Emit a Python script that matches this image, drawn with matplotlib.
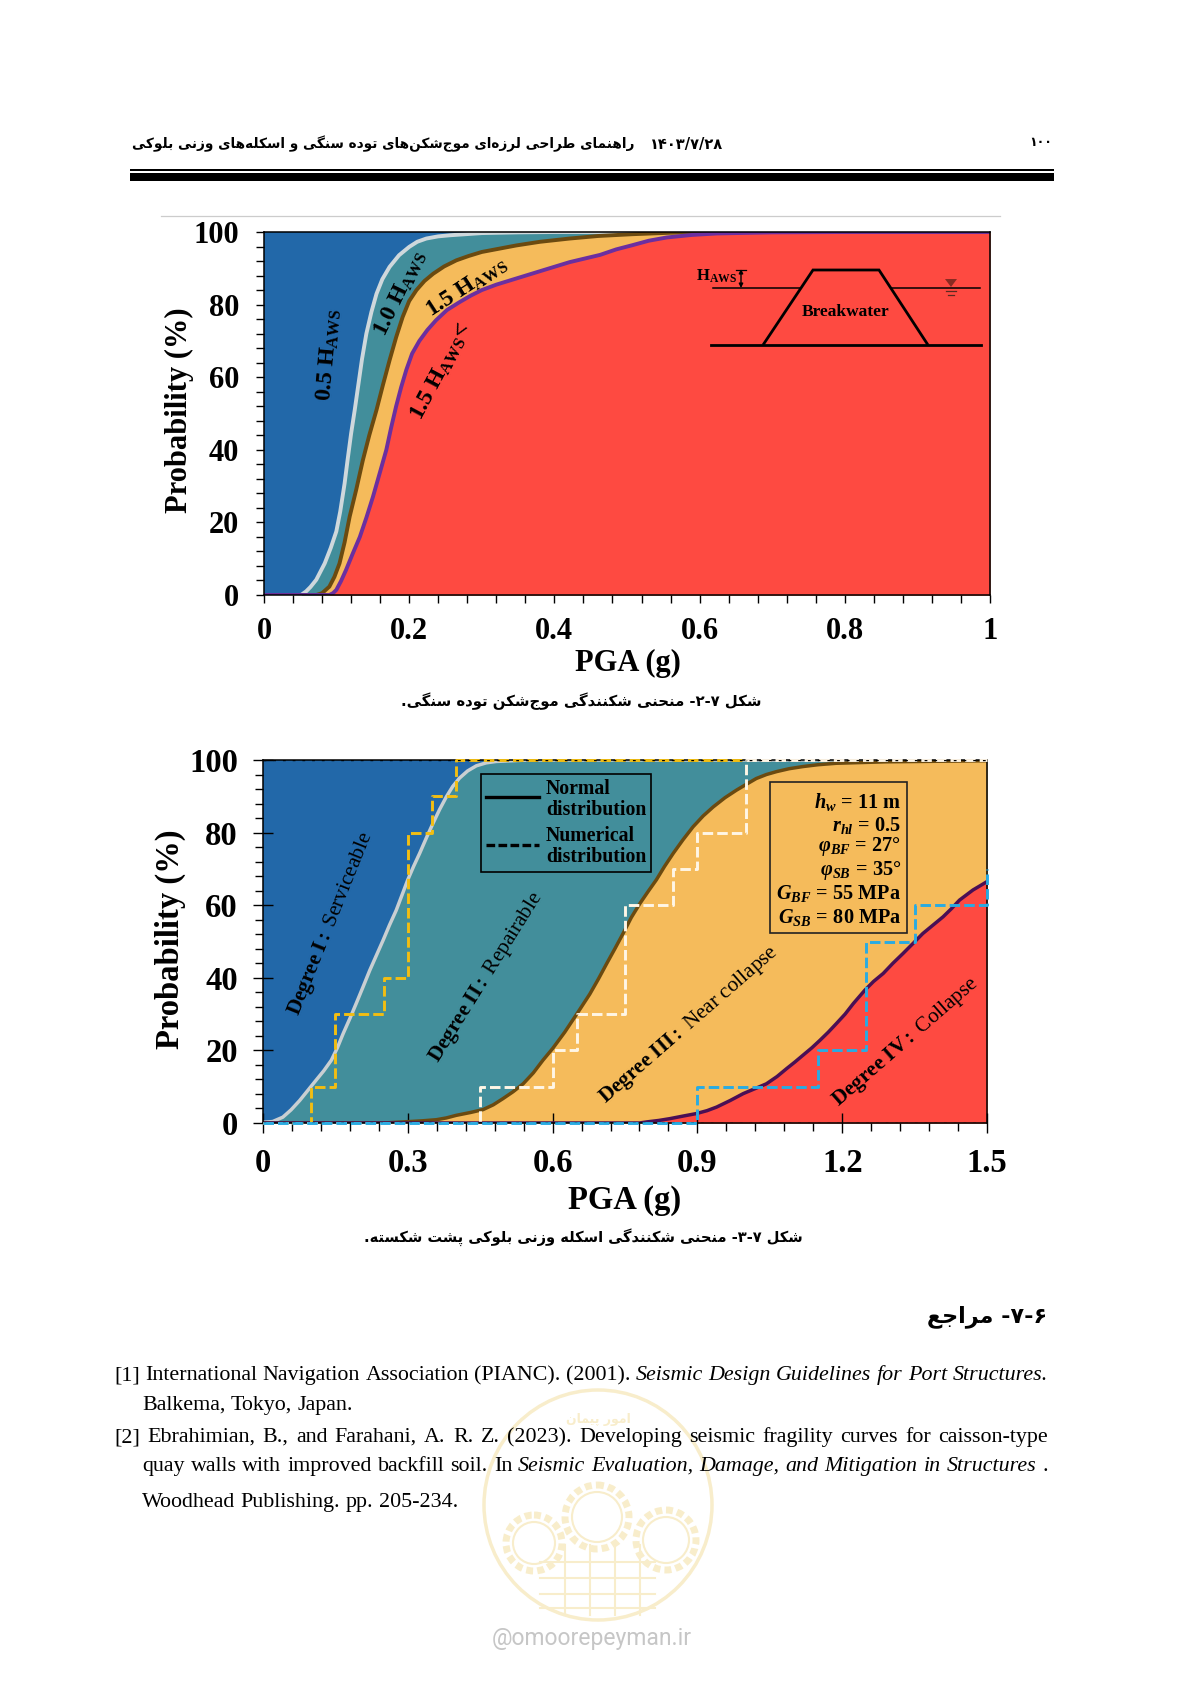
import matplotlib
matplotlib.use("Agg")
import matplotlib.pyplot as plt
from matplotlib.lines import Line2D
from matplotlib.patches import Ellipse, Polygon, Rectangle
from matplotlib.ticker import MultipleLocator, FuncFormatter

W, H = 1191, 1684
SERIF = "Liberation Serif"
plt.rcParams["font.family"] = SERIF
plt.rcParams["mathtext.fontset"] = "custom"
plt.rcParams["mathtext.rm"] = SERIF
plt.rcParams["mathtext.it"] = SERIF + ":italic"
plt.rcParams["mathtext.bf"] = SERIF + ":bold"
plt.rcParams["mathtext.bfit"] = SERIF + ":italic:bold"

# breakwater fragility curves
x_05 = [0, .051, .058, .064, .072, .0836, .092, .0996, .105, .111, .115, .120, .125, .1295, .135, .141, .148, .155, .163, .173, .186, .2, .211, .2236, .24, .256, .30, .35, .4, 1]
y_05 = [0, 0, 1, 2.2, 4.2, 8.7, 13, 17.5, 23, 30.7, 37, 44.5, 51, 57.3, 65, 72, 78, 83, 87, 90.4, 93.6, 95.9, 97.3, 98.2, 98.8, 99.1, 99.7, 99.9, 100, 100]
x_10 = [0, .072, .08, .09, .097, .104, .111, .118, .127, .136, .145, .155, .164, .173, .182, .191, .2, .21, .221, .233, .248, .265, .282, .30, .3476, .38, .421, .46, .508, .56, .624, 1]
y_10 = [0, 0, .5, 2.3, 5, 8.7, 14.5, 21.6, 29, 37, 44, 51, 58, 64.7, 71, 76.6, 81, 84, 86.5, 88.5, 90.5, 92.2, 93.4, 94.5, 96.3, 97.3, 98.2, 98.9, 99.4, 99.8, 100, 100]
x_15 = [0, .09, .095, .0996, .106, .113, .122, .132, .141, .15, .159, .1685, .175, .182, .189, .196, .204, .214, .225, .237, .252, .2695, .285, .30, .32, .3476, .385, .421, .463, .485, .508, .53, .555, .59, .624, .7, .8, 1]
y_15 = [0, 0, .5, 1.4, 3.8, 6.9, 11.3, 16, 21.3, 27, 33.3, 40, 46, 52, 57.3, 62, 66.5, 70, 73, 75.7, 78.5, 80.7, 82.5, 84, 85.5, 87.2, 89.5, 91.7, 93.7, 95.2, 96.4, 97.6, 98.5, 99.2, 99.6, 99.9, 100, 100]

# block quay wall fragility curves
x_d1 = [0, .02, .041, .058, .076, .093, .11, .126, .1416, .154, .166, .18, .193, .207, .221, .235, .249, .262, .276, .288, .30, .312, .3246, .338, .352, .366, .38, .393, .407, .424, .442, .462, .483, .55, 1.5]
y_d1 = [.2, .4, 1.6, 3.6, 6.2, 9, 11.8, 14.4, 17.3, 20.7, 24.6, 28.8, 32.9, 37.4, 42, 46.2, 50.4, 54.5, 58.6, 62.8, 67, 70.7, 74.3, 78.4, 82.5, 86.4, 89.9, 92.7, 95, 97, 98.4, 99.2, 99.6, 100, 100]
x_d2 = [0, .25, .304, .33, .359, .38, .40, .43, .456, .477, .497, .518, .539, .56, .58, .6, .625, .65, .677, .695, .712, .729, .746, .763, .781, .798, .815, .832, .85, .87, .891, .912, .933, .957, .981, 1.0, 1.022, 1.043, 1.064, 1.09, 1.119, 1.15, 1.188, 1.29, 1.5]
y_d2 = [0, 0, .4, .6, .9, 1.4, 2.1, 2.9, 3.7, 5, 6.7, 8.6, 10.8, 13.8, 17.3, 20.5, 25, 30, 35.5, 39.7, 43.9, 48, 52.2, 56.6, 60.5, 63.8, 67, 70.7, 74.3, 78, 81.6, 84.6, 87.1, 89.6, 91.7, 93.2, 94.9, 96, 96.8, 97.6, 98.2, 98.7, 99.1, 99.5, 99.8]
x_d3 = [0, .78, .795, .82, .843, .87, .898, .92, .94, .968, .995, 1.02, 1.043, 1.065, 1.085, 1.102, 1.119, 1.137, 1.154, 1.171, 1.188, 1.206, 1.223, 1.247, 1.265, 1.285, 1.305, 1.326, 1.347, 1.367, 1.388, 1.409, 1.426, 1.443, 1.457, 1.471, 1.485, 1.5]
y_d3 = [0, 0, .3, .7, 1.2, 1.9, 2.6, 3.4, 4.4, 6.2, 8.1, 9.5, 10.8, 12.8, 15, 16.8, 18.7, 20.7, 22.8, 25, 27.4, 30, 32.9, 36.6, 39, 41.2, 44, 46.7, 49.5, 52.2, 54.5, 56.8, 59, 61.4, 62.8, 64.2, 65.3, 66.5]

# numerical distributions (steps)
step_x1 = [0, 0.1, 0.15, 0.25, 0.30, 0.35, 0.40, 1.0]
step_y1 = [0, 10, 30, 40, 80, 90, 100, 100]
step_x2 = [0, 0.45, 0.6, 0.65, 0.75, 0.85, 0.9, 1.0, 1.5]
step_y2 = [0, 10, 20, 30, 60, 70, 80, 100, 100]
step_x3 = [0, 0.9, 1.15, 1.25, 1.35, 1.5]
step_y3 = [0, 10, 20, 50, 60, 70]

BLUE, TEAL, ORANGE, RED = "#2268A9", "#428E9B", "#F5BB5B", "#FE4A41"

params = [r"$\mathbfit{h_w}\mathbf{\,=\,11\ m}$", r"$\mathbfit{r_{hl}}\mathbf{\,=\,0.5}$",
          r"$\mathbfit{\varphi_{BF}}\mathbf{\,=\,27°}$", r"$\mathbfit{\varphi_{SB}}\mathbf{\,=\,35°}$",
          r"$\mathbfit{G_{BF}}\mathbf{\,=\,55\ MPa}$", r"$\mathbfit{G_{SB}}\mathbf{\,=\,80\ MPa}$"]


# matplotlib does no arabic shaping, so pick presentation forms by hand
FORMS = {"ب": 0xFE8F, "پ": 0xFB56, "ت": 0xFE95, "ج": 0xFE9D, "چ": 0xFB7A, "ح": 0xFEA1, "خ": 0xFEA5,
         "س": 0xFEB1, "ش": 0xFEB5, "ط": 0xFEC1, "ع": 0xFEC9, "ف": 0xFED1, "ق": 0xFED5, "ک": 0xFB8E,
         "گ": 0xFB92, "ل": 0xFEDD, "م": 0xFEE1, "ن": 0xFEE5, "ه": 0xFEE9, "ی": 0xFBFC}
RIGHT = {"ا": 0xFE8D, "د": 0xFEA9, "ذ": 0xFEAB, "ر": 0xFEAD, "ز": 0xFEAF, "ژ": 0xFB8A, "و": 0xFEED}


def persian(s):
    out = []
    for i, c in enumerate(s):
        before = s[i - 1] if i > 0 else " "
        after = s[i + 1] if i + 1 < len(s) else " "
        join_prev = before in FORMS
        join_next = after in FORMS or after in RIGHT
        if c in FORMS:
            form = (3 if join_next else 1) if join_prev else (2 if join_next else 0)
            out.append(chr(FORMS[c] + form))
        elif c in RIGHT:
            out.append(chr(RIGHT[c] + (1 if join_prev else 0)))
        elif c != "\u200c":
            out.append(c)
    return "".join(out[::-1])


fig = plt.figure(figsize=(W / 100, H / 100), dpi=100, facecolor="white")


def make_axes(left, right, top, bottom):
    return fig.add_axes([left / W, 1 - bottom / H, (right - left) / W, (bottom - top) / H])


def style_axes(ax, xmaj, xmin, xmax, size, inout):
    ax.set_xlim(0, xmax)
    ax.set_ylim(0, 100)
    ax.xaxis.set_major_locator(MultipleLocator(xmaj))
    ax.xaxis.set_minor_locator(MultipleLocator(xmin))
    ax.yaxis.set_major_locator(MultipleLocator(20))
    ax.yaxis.set_minor_locator(MultipleLocator(4))
    ax.xaxis.set_major_formatter(FuncFormatter(clean))
    ax.tick_params(which="minor", direction="out", length=6, width=1)
    ax.tick_params(which="major", direction="inout" if inout else "out", length=14 if inout else 6, width=1)
    ax.tick_params(axis="x", which="major", pad=11 if inout else 10)
    ax.tick_params(axis="y", which="major", pad=11 if inout else 12)
    for lab in ax.get_xticklabels() + ax.get_yticklabels():
        lab.set_fontsize(size)
        lab.set_fontweight("bold")
    for sp in ax.spines.values():
        sp.set_linewidth(1.1)
        sp.set_zorder(6)
    ax.set_xlabel("PGA (g)", fontsize=size, fontweight="bold", va="center")
    ax.set_ylabel("Probability (%)", fontsize=size, fontweight="bold", va="center")


def clean(v, pos):
    return ("%.1f" % v) if abs(v - round(v)) > 1e-6 else "%d" % round(v)


# top chart
ax1 = make_axes(264, 990, 232, 595)
ax1.set_facecolor(BLUE)
ax1.fill_between(x_05, 0, y_05, color=TEAL, lw=0)
ax1.fill_between(x_10, 0, y_10, color=ORANGE, lw=0)
ax1.fill_between(x_15, 0, y_15, color=RED, lw=0)
ax1.plot(x_05, y_05, color="#CFD8DC", lw=2.8, solid_joinstyle="round")
ax1.plot(x_10, y_10, color="#6B4A10", lw=2.8, solid_joinstyle="round")
ax1.plot(x_15, y_15, color="#6B2FA0", lw=2.8, solid_joinstyle="round")
style_axes(ax1, 0.2, 0.04, 1, 22, False)
ax1.yaxis.set_label_coords((179 - 264) / 726, 0.508)
ax1.xaxis.set_label_coords(0.501, -(663 - 595) / 363)

# bottom chart
ax2 = make_axes(263, 987, 760, 1123)
ax2.set_facecolor(BLUE)
ax2.fill_between(x_d1, 0, y_d1, color=TEAL, lw=0)
ax2.fill_between(x_d2, 0, y_d2, color=ORANGE, lw=0)
ax2.fill_between(x_d3, 0, y_d3, color=RED, lw=0)
ax2.plot(x_d1, y_d1, color="#C9CFD2", lw=2.5, solid_joinstyle="round")
ax2.plot(x_d2, y_d2, color="#6B4A10", lw=2.5, solid_joinstyle="round")
ax2.plot(x_d3, y_d3, color="#4A0F55", lw=2.5, solid_joinstyle="round")
dash = (0, (3.6, 1.4))
ax2.step(step_x1, step_y1, where="post", color="#F2BE12", lw=2.1, ls=dash, zorder=7, clip_on=False)
ax2.step(step_x2, step_y2, where="post", color="#FFF6E6", lw=2.1, ls=dash, zorder=7, clip_on=False)
ax2.step(step_x3, step_y3, where="post", color="#29ABE2", lw=2.1, ls=dash, zorder=7, clip_on=False)
ax2.axhline(0, color="black", lw=1, ls=(0, (2, 5)), zorder=8)
ax2.axhline(100, color="black", lw=1, ls=(0, (2, 5)), zorder=8)
style_axes(ax2, 0.3, 0.06, 1.5, 23.5, True)
ax2.yaxis.set_label_coords((170 - 263) / 724, 0.505)
ax2.xaxis.set_label_coords(0.5, -(1200 - 1123) / 363)
leg = ax2.legend(handles=[Line2D([], [], color="black", lw=2.4),
                          Line2D([], [], color="black", lw=2.4, ls=(0, (2.6, 1)))],
                 labels=["Normal\ndistribution", "Numerical\ndistribution"],
                 loc="upper left", bbox_to_anchor=((481 - 263) / 724, (1123 - 774) / 363),
                 borderaxespad=0, fancybox=False, facecolor="none", edgecolor="black",
                 prop={"family": SERIF, "weight": "bold", "size": 14.2},
                 handlelength=2.7, handletextpad=0.35, borderpad=0.25, labelspacing=0.3,
                 handleheight=1.6)
leg.get_frame().set_linewidth(1.2)
leg.get_frame().set_alpha(None)
for t in leg.get_texts():
    t.set_linespacing(1.08)

# everything placed by page pixels goes on this transparent overlay
page = fig.add_axes([0, 0, 1, 1], zorder=5)
page.set_xlim(0, W)
page.set_ylim(H, 0)
page.axis("off")

# watermark
pale = "#F8EDCB"
page.add_patch(Ellipse((598, 1505), 228, 230, fill=False, ec=pale, lw=2.5))
for cx, cy, r in [(534, 1543, 28), (597, 1517, 32), (666, 1540, 30)]:
    page.add_patch(Ellipse((cx, cy), 2 * r, 2 * r, fill=False, ec=pale, lw=5, ls=(0, (1, 0.6))))
    page.add_patch(Ellipse((cx, cy), 2 * r - 14, 2 * r - 14, fill=False, ec=pale, lw=1.5))
for gy in [1562, 1578, 1594, 1608]:
    page.plot([540, 655], [gy, gy], color=pale, lw=1.5)
for gx in [565, 590, 615, 640]:
    page.plot([gx, gx], [1545, 1615], color=pale, lw=1.5)
page.text(598, 1419, persian("امور پیمان"), family="DejaVu Sans", weight="bold", fontsize=9,
          color=pale, ha="center", va="center")
page.text(492, 1638, "@omoorepeyman.ir", family="Roboto", fontsize=16.5, color="#C6C6C6",
          ha="left", va="center")

# header
page.add_patch(Rectangle((130, 168.5), 924, 2.5, color="black", lw=0))
page.add_patch(Rectangle((130, 173), 924, 8, color="black", lw=0))
page.plot([161, 1000], [216, 216], color="#CCCCCC", lw=0.9)
PF = dict(family="DejaVu Sans", weight="bold", va="center")
page.text(634, 144, persian("راهنمای طراحی لرزه‌ای موج‌شکن‌های توده سنگی و اسکله‌های وزنی بلوکی"),
          fontsize=9.8, ha="right", **PF)
page.text(723, 144, "۱۴۰۳/۷/۲۸", fontsize=10.5, ha="right", **PF)
page.text(1041, 143, "۱۰۰", fontsize=9, ha="center", **PF)

# captions and heading
page.text(581, 701, persian("شکل ۷-۲- منحنی شکنندگی موج‌شکن توده سنگی."), fontsize=10.7, ha="center", **PF)
page.text(583, 1237, persian("شکل ۷-۳- منحنی شکنندگی اسکله وزنی بلوکی پشت شکسته."), fontsize=10.5, ha="center", **PF)
page.text(1047, 1317, persian("۶-۷- مراجع"), fontsize=16, ha="right", **PF)

# top chart labels
lab = dict(fontsize=17, ha="center", va="center", rotation_mode="anchor")
page.text(329, 355, r"$\mathbf{0.5\ H_{AWS}}$", rotation=85, **lab)
page.text(400, 293, r"$\mathbf{1.0\ H_{AWS}}$", rotation=64, **lab)
page.text(467, 287, r"$\mathbf{1.5\ H_{AWS}}$", rotation=33, **lab)
page.text(441, 372, r"$\mathbf{1.5\ H_{AWS}\!<}$", rotation=62, **lab)

# breakwater sketch
page.add_patch(Polygon([(763, 345), (813, 270), (879, 270), (928, 345)], closed=False, fill=False, ec="black", lw=2))
page.plot([711, 981], [345, 345], color="black", lw=2)
page.plot([713, 800], [288, 288], color="black", lw=1.1)
page.plot([892, 980], [288, 288], color="black", lw=1.1)
page.add_patch(Polygon([(945, 279), (957, 279), (951, 287)], color="#8A2B22", lw=0))
page.plot([946, 956], [291, 291], color="#5A2A20", lw=0.9)
page.plot([948, 954], [295, 295], color="#5A2A20", lw=0.9)
page.annotate("", (741, 269), (741, 288), arrowprops=dict(arrowstyle="<|-|>", color="black", lw=1, mutation_scale=6, shrinkA=0, shrinkB=0))
page.plot([736, 746], [269.5, 269.5], color="black", lw=0.9)
page.text(696, 276, r"$\mathbf{H_{AWS}}$", fontsize=12, ha="left", va="center")
page.text(846, 312, "Breakwater", fontsize=12.5, weight="bold", ha="center", va="center")

# bottom chart labels
lab2 = dict(fontsize=15.3, ha="center", va="center", rotation_mode="anchor")
page.text(331, 924, r"$\mathbf{Degree\ I{:}}$ Serviceable", rotation=68, **lab2)
page.text(487, 977, r"$\mathbf{Degree\ II{:}}$ Repairable", rotation=58, **lab2)
page.text(689, 1025, r"$\mathbf{Degree\ III{:}}$ Near collapse", rotation=41, **lab2)
page.text(906, 1042, r"$\mathbf{Degree\ IV{:}}$ Collapse", rotation=41, **lab2)

# parameter box
page.add_patch(Rectangle((770, 782), 137, 151, fill=False, ec="#222222", lw=1.2))
for txt, py in zip(params, [802, 825, 847, 871, 894, 917]):
    page.text(901, py, txt, fontsize=14.6, ha="right", va="center")

# references, justified word by word
REF_SIZE = 15.8
renderer = fig.canvas.get_renderer()


def ref_line(x0, x1, y, parts, justify=True):
    words = []
    for txt, style in parts:
        words += [(w, style) for w in txt.split()]
    items, total = [], 0
    for w, style in words:
        t = page.text(0, y, w, fontsize=REF_SIZE, style=style, va="center", ha="left")
        items.append(t)
        total += t.get_window_extent(renderer).width
    gap = (x1 - x0 - total) / (len(items) - 1) if justify else REF_SIZE * 0.35
    x = x0
    for t in items:
        t.set_x(x)
        x += t.get_window_extent(renderer).width + gap


ref_line(114, 1048, 1375.5, [("[1] International Navigation Association (PIANC). (2001).", "normal"),
                             ("Seismic Design Guidelines for Port Structures.", "italic")])
ref_line(142, 0, 1405.5, [("Balkema, Tokyo, Japan.", "normal")], justify=False)
ref_line(114, 1048, 1437.5, [("[2] Ebrahimian, B., and Farahani, A. R. Z. (2023). Developing seismic fragility curves for caisson-type", "normal")])
ref_line(142, 1048, 1466.5, [("quay walls with improved backfill soil. In", "normal"),
                             ("Seismic Evaluation, Damage, and Mitigation in Structures", "italic"),
                             (".", "normal")])
ref_line(142, 0, 1502.5, [("Woodhead Publishing. pp. 205-234.", "normal")], justify=False)

fig.savefig("out.png", dpi=100)
